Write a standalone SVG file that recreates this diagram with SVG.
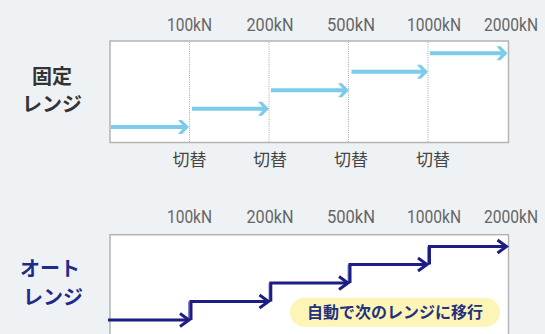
<svg xmlns="http://www.w3.org/2000/svg" width="545" height="334" viewBox="0 0 545 334">
<defs>
<style>
.bg{fill:#eff2f4}
.box{fill:#fff;stroke:#b4b4b4;stroke-width:1.5}
.dot{stroke:#a8a8a8;stroke-width:1;stroke-dasharray:1 1.2}
.kn{font-family:"Roboto","Liberation Sans",sans-serif;font-size:18px;fill:#666;text-anchor:middle}
.sw{font-family:"Noto Sans CJK JP",sans-serif;font-size:17px;fill:#444;text-anchor:middle}
.ttl{font-family:"Noto Sans CJK JP",sans-serif;font-size:20px;font-weight:bold;text-anchor:middle}
.lb{stroke:#7ccbea;stroke-width:4;fill:none}
.lbh{fill:#7ccbea}
.nv{stroke:#1d1d86;stroke-width:3;fill:none}
.nvh{stroke:#1d1d86;stroke-width:3;fill:none;stroke-linejoin:miter}
.rise{stroke:#8484c6;stroke-width:2}
</style>
<polygon id="bh" points="0,0 -7,-7 -11,-7 -5,0 -11,7 -7,7"/>
<polyline id="nh" points="-9,-6.5 0,0 -9,6.5"/>
</defs>
<rect class="bg" x="0" y="0" width="545" height="334"/>

<g id="fixed-label">
<text class="ttl" x="52" y="84" fill="#333">固定</text>
<text class="ttl" x="52" y="112" fill="#333">レンジ</text>
</g>
<g id="auto-label">
<text class="ttl" x="50" y="276" fill="#1f2a8a" font-size="21">オート</text>
<text class="ttl" x="53" y="305" fill="#1f2a8a">レンジ</text>
</g>

<g id="top-chart">
<rect class="box" x="110" y="41" width="398.5" height="101.5"/>
<line class="dot" x1="189.5" y1="42" x2="189.5" y2="142"/>
<line class="dot" x1="269" y1="42" x2="269" y2="142"/>
<line class="dot" x1="348.5" y1="42" x2="348.5" y2="142"/>
<line class="dot" x1="428" y1="42" x2="428" y2="142"/>
<text class="kn" x="189.5" y="31" textLength="45" lengthAdjust="spacingAndGlyphs">100kN</text>
<text class="kn" x="270" y="31" textLength="47" lengthAdjust="spacingAndGlyphs">200kN</text>
<text class="kn" x="351" y="31" textLength="48" lengthAdjust="spacingAndGlyphs">500kN</text>
<text class="kn" x="434" y="31" textLength="54" lengthAdjust="spacingAndGlyphs">1000kN</text>
<text class="kn" x="511" y="31" font-size="17" textLength="54" lengthAdjust="spacingAndGlyphs">2000kN</text>
<text class="sw" x="189.5" y="166">切替</text>
<text class="sw" x="270" y="166">切替</text>
<text class="sw" x="351" y="166">切替</text>
<text class="sw" x="433" y="166">切替</text>
</g>

<g id="bottom-chart">
<rect class="box" x="110" y="234.7" width="398.5" height="110"/>
<text class="kn" x="189.5" y="223" textLength="45" lengthAdjust="spacingAndGlyphs">100kN</text>
<text class="kn" x="270" y="223" textLength="47" lengthAdjust="spacingAndGlyphs">200kN</text>
<text class="kn" x="351" y="223" textLength="48" lengthAdjust="spacingAndGlyphs">500kN</text>
<text class="kn" x="434" y="223" textLength="54" lengthAdjust="spacingAndGlyphs">1000kN</text>
<text class="kn" x="511" y="223" font-size="17" textLength="54" lengthAdjust="spacingAndGlyphs">2000kN</text>
</g>

<g id="connectors">
<line class="lb" x1="111" y1="127" x2="184" y2="127"/>
<use href="#bh" class="lbh" transform="translate(189,127)"/>
<line class="lb" x1="192" y1="108.7" x2="264" y2="108.7"/>
<use href="#bh" class="lbh" transform="translate(269,108.7)"/>
<line class="lb" x1="271" y1="90.3" x2="344" y2="90.3"/>
<use href="#bh" class="lbh" transform="translate(349,90.3)"/>
<line class="lb" x1="351.5" y1="71.7" x2="423" y2="71.7"/>
<use href="#bh" class="lbh" transform="translate(428,71.7)"/>
<line class="lb" x1="430" y1="53.3" x2="502" y2="53.3"/>
<use href="#bh" class="lbh" transform="translate(507.5,53.3)"/>

<line class="rise" x1="189" y1="320" x2="189" y2="301.5"/>
<line class="rise" x1="269.5" y1="301.5" x2="269.5" y2="283"/>
<line class="rise" x1="348.5" y1="283" x2="348.5" y2="264.5"/>
<line class="rise" x1="428" y1="264.5" x2="428" y2="246.5"/>
<path class="nv" d="M108,320 H189 M191,320 V301.5 H268 M270.8,301.5 V283 H347.5 M350,283 V264.5 H427 M429.5,264.5 V246.5 H506.5"/>
<use href="#nh" class="nvh" transform="translate(189,320)"/>
<use href="#nh" class="nvh" transform="translate(268.5,301.5)"/>
<use href="#nh" class="nvh" transform="translate(348,283)"/>
<use href="#nh" class="nvh" transform="translate(427,264.5)"/>
<use href="#nh" class="nvh" transform="translate(506.5,246.5)"/>
</g>

<g id="auto-note">
<rect x="290" y="297.7" width="210" height="29" rx="14.5" fill="#fcf5b6"/>
<text x="395" y="318" font-family="'Noto Sans CJK JP',sans-serif" font-size="16" font-weight="bold" fill="#23307f" text-anchor="middle">自動で次のレンジに移行</text>
</g>
</svg>
